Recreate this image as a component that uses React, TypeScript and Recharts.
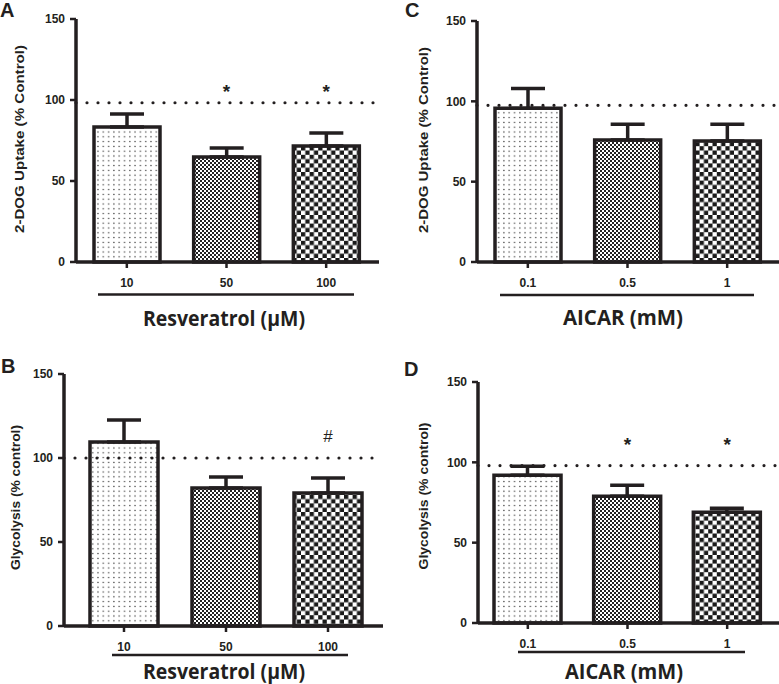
import React from 'react';
import { ComposedChart, Bar, Cell, XAxis, YAxis, ErrorBar, ReferenceLine, Line } from 'recharts';

// ---------- data ----------
const resveratrolDoses = ['10', '50', '100'];
const aicarDoses = ['0.1', '0.5', '1'];

const uptakeResvMean = [83.3, 64.8, 71.6];
const uptakeResvSem = [8.1, 5.6, 8.0];
const uptakeResvSig = ['', '*', '*'];
const uptakeResvSigLevel = 108;
const uptakeResvControl = 98.3;

const uptakeAicarMean = [95.7, 75.9, 75.3];
const uptakeAicarSem = [12.3, 9.9, 10.5];
const uptakeAicarSig = ['', '', ''];
const uptakeAicarSigLevel = 108;
const uptakeAicarControl = 97.5;

const glycResvMean = [109.5, 82.1, 79.2];
const glycResvSem = [13.1, 6.6, 8.9];
const glycResvSig = ['', '', '#'];
const glycResvSigLevel = 113;
const glycResvControl = 100;

const glycAicarMean = [91.9, 78.9, 68.9];
const glycAicarSem = [5.6, 6.8, 2.5];
const glycAicarSig = ['', '*', '*'];
const glycAicarSigLevel = 114;
const glycAicarControl = 98;

const yTicks = [0, 50, 100, 150];
const patternIds = ['patDots', 'patFine', 'patCoarse'];

const INK = '#231f20';
const ARIAL = '"Liberation Sans", Arial, sans-serif';
const TITLE_FONT = '"Open Sans", "Noto Sans", sans-serif';

type PanelProps = {
  left: number;
  top: number;
  width: number;
  height: number;
  axisX: number;
  plotRight: number;
  yTop: number;
  yBottom: number;
  padL: number;
  padR: number;
  barSize: number;
  cats: string[];
  values: number[];
  errors: number[];
  sig: string[];
  sigLevel: number;
  control: number;
};

const Y_W = 40;
const X_H = 40;

function Panel(p: PanelProps) {
  const data = p.cats.map((c, i) => ({
    cat: c,
    value: p.values[i],
    err: [0, p.errors[i]],
    sig: p.sig[i],
    sigY: p.sig[i] ? p.sigLevel : null,
  }));

  const renderSig = (props: any) => {
    const { cx, cy, payload, index } = props;
    if (cy == null || cx == null || !payload || !payload.sig) return <g key={`s${index}`} />;
    const isHash = payload.sig === '#';
    const fs = isHash ? 17 : 19;
    const off = isHash ? 0.36 * fs : 0.58 * fs;
    return (
      <text
        key={`s${index}`}
        x={cx}
        y={cy + off}
        textAnchor="middle"
        fontSize={fs}
        fontWeight={isHash ? 400 : 700}
        fontFamily={ARIAL}
        fill={INK}
      >
        {payload.sig}
      </text>
    );
  };

  return (
    <div style={{ position: 'absolute', left: p.left, top: p.top }}>
      <ComposedChart
        width={p.width}
        height={p.height}
        data={data}
        margin={{
          left: p.axisX - Y_W,
          right: p.width - p.plotRight,
          top: p.yTop,
          bottom: p.height - p.yBottom - X_H,
        }}
      >
        <XAxis
          dataKey="cat"
          height={X_H}
          padding={{ left: p.padL, right: p.padR }}
          axisLine={{ stroke: INK, strokeWidth: 3.5 }}
          tickLine={{ stroke: INK, strokeWidth: 2.5 }}
          tickSize={6}
          tickMargin={10}
          interval={0}
          tick={{ fill: INK, fontSize: 12, fontWeight: 700, fontFamily: ARIAL }}
        />
        <YAxis
          type="number"
          domain={[0, 150]}
          ticks={yTicks}
          interval={0}
          width={Y_W}
          axisLine={{ stroke: INK, strokeWidth: 3.5 }}
          tickLine={{ stroke: INK, strokeWidth: 2.5 }}
          tickSize={6}
          tickMargin={5}
          tick={{ fill: INK, fontSize: 12, fontWeight: 700, fontFamily: ARIAL }}
        />
        <Bar dataKey="value" barSize={p.barSize} stroke={INK} strokeWidth={3.5} isAnimationActive={false}>
          {data.map((d, i) => (
            <Cell key={i} fill={`url(#${patternIds[i]})`} />
          ))}
          <ErrorBar dataKey="err" direction="y" width={17} stroke={INK} strokeWidth={3.5} />
        </Bar>
        <ReferenceLine
          y={p.control}
          stroke={INK}
          strokeWidth={3.2}
          strokeDasharray="0 11"
          strokeLinecap="round"
        />
        <Line
          dataKey="sigY"
          stroke="none"
          isAnimationActive={false}
          dot={renderSig}
          activeDot={false}
          legendType="none"
        />
      </ComposedChart>
    </div>
  );
}

function YLabel({ x, y, text, len, fs }: { x: number; y: number; text: string; len: number; fs: number }) {
  return (
    <text
      transform={`translate(${x},${y}) rotate(-90)`}
      textAnchor="middle"
      dominantBaseline="central"
      fontSize={fs}
      fontWeight={700}
      fontFamily={ARIAL}
      fill={INK}
      textLength={len}
      lengthAdjust="spacingAndGlyphs"
    >
      {text}
    </text>
  );
}

function Title({ x, y, text, len }: { x: number; y: number; text: string; len: number }) {
  return (
    <text
      x={x}
      y={y}
      textAnchor="middle"
      fontSize={21}
      fontWeight={700}
      fontFamily={TITLE_FONT}
      fill={INK}
      textLength={len}
      lengthAdjust="spacingAndGlyphs"
    >
      {text}
    </text>
  );
}

function Letter({ x, y, text }: { x: number; y: number; text: string }) {
  return (
    <text x={x} y={y} fontSize={20} fontWeight={700} fontFamily={ARIAL} fill={INK}>
      {text}
    </text>
  );
}

export default function App() {
  return (
    <div
      style={{
        position: 'absolute',
        left: 0,
        top: 0,
        width: 779,
        height: 684,
        background: '#fff',
        overflow: 'hidden',
      }}
    >
      <svg width={0} height={0} style={{ position: 'absolute' }}>
        <defs>
          <pattern id="patDots" width={5.3} height={4.8} patternUnits="userSpaceOnUse">
            <rect width={5.3} height={4.8} fill="#fff" />
            <circle cx={2.6} cy={2.4} r={0.7} fill="#333" />
          </pattern>
          <pattern id="patFine" width={4} height={4} patternUnits="userSpaceOnUse">
            <rect width={4} height={4} fill="#fff" />
            <rect x={0} y={0} width={2} height={2} fill="#222" />
            <rect x={2} y={2} width={2} height={2} fill="#222" />
          </pattern>
          <pattern id="patCoarse" width={8.6} height={8.6} patternUnits="userSpaceOnUse">
            <rect width={8.6} height={8.6} fill="#fff" />
            <rect x={0} y={0} width={4.3} height={4.3} fill="#1a1a1a" />
            <rect x={4.3} y={4.3} width={4.3} height={4.3} fill="#1a1a1a" />
          </pattern>
        </defs>
      </svg>

      <Panel
        left={0}
        top={0}
        width={390}
        height={340}
        axisX={76}
        plotRight={379}
        yTop={19}
        yBottom={262}
        padL={1}
        padR={3}
        barSize={66}
        cats={resveratrolDoses}
        values={uptakeResvMean}
        errors={uptakeResvSem}
        sig={uptakeResvSig}
        sigLevel={uptakeResvSigLevel}
        control={uptakeResvControl}
      />
      <Panel
        left={390}
        top={0}
        width={389}
        height={340}
        axisX={87}
        plotRight={389}
        yTop={21}
        yBottom={262}
        padL={1}
        padR={2}
        barSize={66}
        cats={aicarDoses}
        values={uptakeAicarMean}
        errors={uptakeAicarSem}
        sig={uptakeAicarSig}
        sigLevel={uptakeAicarSigLevel}
        control={uptakeAicarControl}
      />
      <Panel
        left={0}
        top={340}
        width={390}
        height={344}
        axisX={64}
        plotRight={383}
        yTop={34}
        yBottom={286}
        padL={9}
        padR={4}
        barSize={68}
        cats={resveratrolDoses}
        values={glycResvMean}
        errors={glycResvSem}
        sig={glycResvSig}
        sigLevel={glycResvSigLevel}
        control={glycResvControl}
      />
      <Panel
        left={390}
        top={340}
        width={389}
        height={344}
        axisX={88}
        plotRight={389}
        yTop={42}
        yBottom={283}
        padL={0}
        padR={2}
        barSize={67}
        cats={aicarDoses}
        values={glycAicarMean}
        errors={glycAicarSem}
        sig={glycAicarSig}
        sigLevel={glycAicarSigLevel}
        control={glycAicarControl}
      />

      <svg
        width={779}
        height={684}
        style={{ position: 'absolute', left: 0, top: 0, pointerEvents: 'none' }}
      >
        <Letter x={0} y={17} text="A" />
        <Letter x={405} y={17} text="C" />
        <Letter x={1} y={373} text="B" />
        <Letter x={404} y={376} text="D" />

        <YLabel x={19} y={139} text="2-DOG Uptake (% Control)" len={188} fs={13} />
        <YLabel x={423.5} y={140} text="2-DOG Uptake (% Control)" len={186} fs={13} />
        <YLabel x={15} y={497.5} text="Glycolysis (% control)" len={145} fs={13} />
        <YLabel x={423} y={496} text="Glycolysis (% control)" len={147} fs={13} />

        <line x1={98} x2={354} y1={294.5} y2={294.5} stroke={INK} strokeWidth={2.5} />
        <line x1={500} x2={754} y1={295} y2={295} stroke={INK} strokeWidth={2.5} />
        <line x1={112} x2={348} y1={655} y2={655} stroke={INK} strokeWidth={2.5} />
        <line x1={518} x2={745} y1={652} y2={652} stroke={INK} strokeWidth={2.5} />

        <Title x={224} y={326} text="Resveratrol (µM)" len={162} />
        <Title x={623} y={325} text="AICAR (mM)" len={120} />
        <Title x={224} y={679} text="Resveratrol (µM)" len={162} />
        <Title x={624} y={679} text="AICAR (mM)" len={118} />
      </svg>
    </div>
  );
}
